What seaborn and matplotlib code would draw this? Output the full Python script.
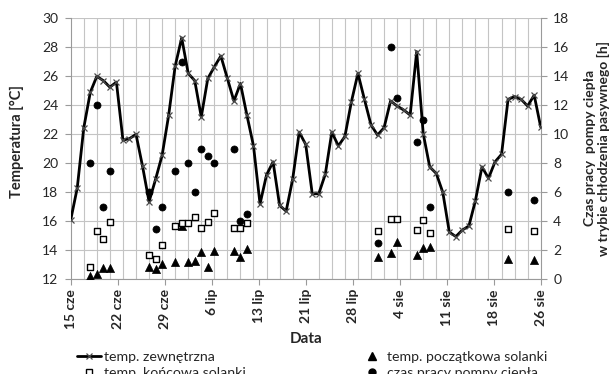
import numpy as np
import pandas as pd
import matplotlib
matplotlib.use("Agg")
import matplotlib.pyplot as plt
from matplotlib.lines import Line2D
from matplotlib.ticker import MultipleLocator, FixedLocator
import seaborn as sns

# ---------------- data ----------------
# day index 0 = 15 cze, 72 = 26 sie
outdoor_days = list(range(73))
outdoor_temp = [16.1, 18.3, 22.45, 24.9, 26.0, 25.7, 25.25, 25.6, 21.6, 21.7,
                22.0, 19.8, 17.35, 18.9, 20.55, 23.3, 26.7, 28.65, 26.2, 25.7,
                23.2, 25.85, 26.65, 27.4, 25.85, 24.3, 25.5, 23.3, 21.2, 17.2,
                19.2, 20.1, 17.1, 16.7, 18.9, 22.15, 21.3, 17.9, 17.9, 19.25,
                22.15, 21.2, 21.85, 24.25, 26.2, 24.4, 22.65, 21.95, 22.45, 24.3,
                23.95, 23.68, 23.33, 27.7, 22.05, 19.75, 19.3, 18.0, 15.25, 14.95,
                15.4, 15.68, 17.43, 19.75, 18.97, 20.1, 20.62, 24.41, 24.6, 24.41,
                23.95, 24.7, 22.5]

meas_days = [3, 4, 5, 6, 12, 13, 14, 16, 17, 18, 19, 20, 21, 22, 25, 26, 27,
             47, 49, 50, 53, 54, 55, 67, 71]
brine_start = [12.24, 12.35, 12.76, 12.76, 12.85, 12.74, 13.04, 13.22, 15.65, 13.16,
               13.28, 13.85, 12.87, 13.98, 13.98, 13.56, 14.07,
               13.54, 13.8, 14.6, 13.68, 14.16, 14.23, 13.38, 13.3]
brine_end = [12.87, 15.36, 14.76, 15.98, 13.68, 13.38, 14.37, 15.68, 15.86, 15.86,
             16.27, 15.56, 15.98, 16.6, 15.56, 15.56, 15.88,
             15.3, 16.17, 16.17, 15.37, 16.07, 15.2, 15.47, 15.33]
pump_hours = [8.0, 12.0, 5.0, 7.5, 6.0, 3.5, 5.0, 7.5, 15.0, 8.0,
              6.0, 9.0, 8.5, 8.0, 9.0, 4.0, 4.5,
              2.5, 16.0, 12.5, 9.5, 11.0, 5.0, 6.0, 5.5]

tick_labels = ["15 cze", "22 cze", "29 cze", "6 lip", "13 lip", "21 lip",
               "28 lip", "4 sie", "11 sie", "18 sie", "26 sie"]

df_line = pd.DataFrame({"day": outdoor_days, "temp": outdoor_temp})
df_pts = pd.DataFrame({"day": meas_days, "start": brine_start,
                       "end": brine_end, "hours": pump_hours})

# ---------------- style ----------------
sns.set_theme(style="white")
plt.rcParams["font.family"] = ["Lato", "DejaVu Sans"]
txt = "#262626"
grid_c = "#C4C4C4"
spine_c = "#9A9A9A"

fig = plt.figure(figsize=(6.15, 3.74), dpi=100)
ax = fig.add_axes([0.1150, 0.2532, 0.7642, 0.6979])

sns.lineplot(data=df_line, x="day", y="temp", ax=ax, color="black",
             linewidth=2.0, marker="x", markersize=4, markeredgewidth=0.9,
             markeredgecolor="#4a4a4a", zorder=3)
sns.scatterplot(data=df_pts, x="day", y="start", ax=ax, marker="^", s=34,
                color="black", edgecolor="black", linewidth=0.5, zorder=4)
sns.scatterplot(data=df_pts, x="day", y="end", ax=ax, marker="s", s=24,
                facecolor="white", edgecolor="black", linewidth=1.0, zorder=5)

ax.set_xlim(0, 72)
ax.set_ylim(12, 30)
ax.yaxis.set_major_locator(MultipleLocator(2))
ax.xaxis.set_major_locator(FixedLocator(np.linspace(0, 72, 11)))
ax.xaxis.set_minor_locator(MultipleLocator(2))
ax.set_xticklabels(tick_labels, rotation=90, fontweight="bold",
                   fontsize=10, color=txt)
ax.grid(False)
ax.grid(which="minor", axis="x", color=grid_c, linewidth=0.8)
ax.grid(which="major", axis="y", color=grid_c, linewidth=0.8)
ax.set_axisbelow(True)
ax.set_xlabel("")
ax.set_ylabel("")
ax.tick_params(axis="y", which="major", direction="out", length=4, width=0.8,
               color=spine_c, labelsize=10, labelcolor=txt, pad=5, left=True)
ax.tick_params(axis="x", which="major", direction="out", length=4, width=0.8,
               color=spine_c, pad=3, bottom=True)
ax.tick_params(axis="x", which="minor", length=0)
for s in ["left", "right", "bottom"]:
    ax.spines[s].set_color(spine_c)
    ax.spines[s].set_linewidth(0.8)
ax.spines["top"].set_visible(False)

ax2 = ax.twinx()
sns.scatterplot(data=df_pts, x="day", y="hours", ax=ax2, marker="o", s=26,
                color="black", edgecolor="black", linewidth=0.5, zorder=6)
ax2.set_ylim(0, 18)
ax2.yaxis.set_major_locator(MultipleLocator(2))
ax2.set_ylabel("")
ax2.grid(False)
ax2.tick_params(axis="y", direction="out", length=4, width=0.8, color=spine_c,
                labelsize=10, labelcolor=txt, pad=5, right=True)
for s in ["left", "right", "bottom", "top"]:
    ax2.spines[s].set_visible(False)

# axis titles
fig.text(17 / 615, 1 - 142 / 374, "Temperatura [°C]", rotation=90,
         ha="center", va="center", fontsize=10.5, fontweight="bold", color=txt)
fig.text(597 / 615, 1 - 148 / 374,
         "Czas pracy  pompy ciepła\nw trybie chłodzenia pasywnego [h]",
         rotation=90, ha="center", va="center", fontsize=10,
         fontweight="bold", color=txt, linespacing=1.1)
fig.text(306 / 615, 1 - 339 / 374, "Data", ha="center", va="center",
         fontsize=11, fontweight="bold", color=txt)

# legend (two columns, bottom row partly cut like the original)
h_line = Line2D([], [], color="black", linewidth=2.0, marker="x",
                markersize=4, markeredgewidth=0.9, markeredgecolor="#4a4a4a")
h_end = Line2D([], [], linestyle="none", marker="s", markersize=4.8,
               markerfacecolor="white", markeredgecolor="black",
               markeredgewidth=1.0)
h_start = Line2D([], [], linestyle="none", marker="^", markersize=5.8,
                 color="black")
h_hours = Line2D([], [], linestyle="none", marker="o", markersize=5.0,
                 color="black")
common = dict(loc="upper left", frameon=False, fontsize=10.2, borderpad=0,
              handlelength=1.7, handletextpad=0.2, labelspacing=0.3,
              labelcolor=txt, borderaxespad=0)
leg1 = fig.legend([h_line, h_end], ["temp. zewnętrzna", "temp. końcowa solanki"],
                  bbox_to_anchor=(77 / 615, 1 - 351 / 374), **common)
leg2 = fig.legend([h_start, h_hours],
                  ["temp. początkowa solanki", "czas pracy pompy ciepła"],
                  bbox_to_anchor=(360 / 615, 1 - 351 / 374), **common)

fig.savefig("out.png", dpi=100)
